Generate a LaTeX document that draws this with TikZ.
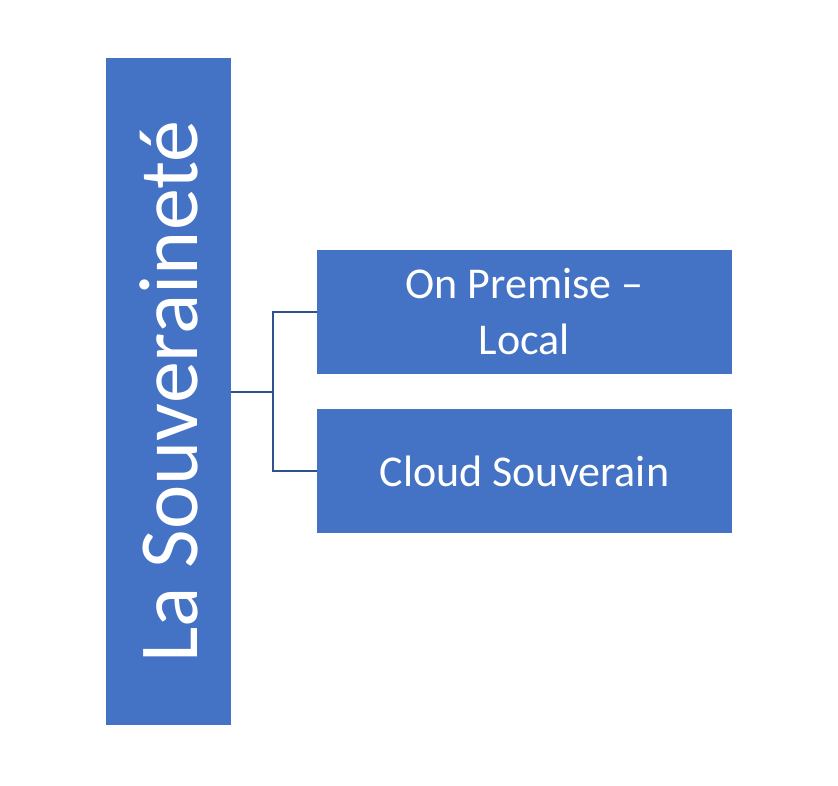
\documentclass[tikz,border=0pt]{standalone}
\usepackage{fontspec}
\setmainfont{Carlito}
\definecolor{boxblue}{HTML}{4472C4}
\definecolor{lineblue}{HTML}{2F528F}
\begin{document}
\begin{tikzpicture}[x=1pt,y=-1pt,
  blk/.style={fill=boxblue,draw=none,text=white,inner sep=0pt,align=center},
  conn/.style={draw=lineblue,line width=1.3pt}]
\useasboundingbox (0,0) rectangle (838,785);
\node[blk,minimum width=125pt,minimum height=667pt] (main) at (168.5,391.5) {};
\node[text=white,rotate=90,font=\fontsize{84}{90}\selectfont] at (main.center) {La Souveraineté};
\node[blk,minimum width=415pt,minimum height=124pt,font=\fontsize{44}{56}\selectfont] (a) at (524.5,312) {On Premise –\\Local};
\node[blk,minimum width=415pt,minimum height=124pt,font=\fontsize{44}{56}\selectfont] (b) at (524.5,471) {Cloud Souverain};
\coordinate (j) at (273,392);
\draw[conn] (main.east |- j) -- (j);
\draw[conn] (a.west) -| (j);
\draw[conn] (b.west) -| (j);
\end{tikzpicture}
\end{document}
